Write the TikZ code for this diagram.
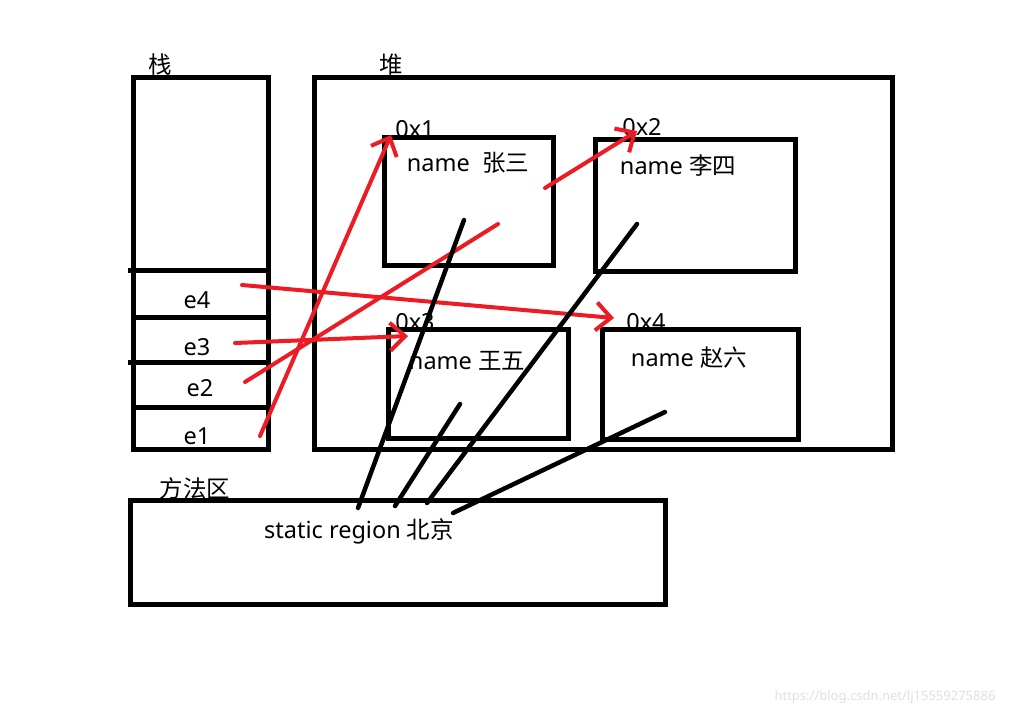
\documentclass[tikz,border=0pt]{standalone}
\usepackage{fontspec}
\setmainfont{Noto Sans}
\newfontfamily\cjk{Noto Sans CJK SC}
\usetikzlibrary{arrows.meta}
\definecolor{paintred}{RGB}{237,28,36}
\tikzset{
  box/.style={draw,line width=5pt,inner sep=0pt},
  sep/.style={line width=5pt},
  ref/.style={paintred,line width=4pt,line cap=round},
  refarr/.style={ref,-{Straight Barb[length=15pt,width=28pt]}},
  link/.style={line width=4.5pt,line cap=round},
  lbl/.style={font=\fontsize{23.5}{26}\selectfont,inner sep=0pt},
  wm/.style={font=\fontsize{13}{15}\selectfont,text=black!12,inner sep=0pt}
}
\begin{document}
\begin{tikzpicture}[x=1pt,y=-1pt]
  \useasboundingbox[fill=white] (0,0) rectangle (1033,716);
  % labels under the frames
  \node[lbl] (stacklbl) at (160,65) {\cjk 栈};
  \node[lbl] (heaplbl) at (391,65) {\cjk 堆};
  \node[lbl] (methodlbl) at (195,489) {\cjk 方法区};
  \node[lbl] (a1) at (415,129) {0x1}; \node[lbl] (a2) at (642,127) {0x2};
  \node[lbl] (a3) at (415,322) {0x3}; \node[lbl] (a4) at (646,322) {0x4};
  % frames
  \node[box,minimum width=135pt,minimum height=372pt] (stack) at (200.5,263) {};
  \node[box,minimum width=578pt,minimum height=372pt] (heap) at (603,263) {};
  \node[box,minimum width=535pt,minimum height=104pt] (method) at (397.5,552) {};
  \node[box,minimum width=169pt,minimum height=128pt] (obj1) at (468.5,201) {};
  \node[box,minimum width=200pt,minimum height=132pt] (obj2) at (695,205) {};
  \node[box,minimum width=180pt,minimum height=109pt] (obj3) at (478,383.5) {};
  \node[box,minimum width=196pt,minimum height=110pt] (obj4) at (700,384) {};
  \draw[sep] (128,270) -- (268,270); \draw[sep] (133,317) -- (268,317);
  \draw[sep] (128,362) -- (268,362); \draw[sep] (133,407) -- (268,407);
  % texts
  \node[lbl] (e4) at (197,300) {e4}; \node[lbl] (e3) at (197,347) {e3};
  \node[lbl] (e2) at (200,388) {e2}; \node[lbl] (e1) at (197,436) {e1};
  \node[lbl] (n1) at (468,163) {name\ \ {\cjk 张三}};
  \node[lbl] (n2) at (678,166) {name {\cjk 李四}};
  \node[lbl] (n3) at (467,361) {name {\cjk 王五}};
  \node[lbl] (n4) at (689,358) {name {\cjk 赵六}};
  \node[lbl] (city) at (359,531) {static region {\cjk 北京}};
  \node[wm] (mark) at (885,697) {https://blog.csdn.net/lj15559275886};
  % references
  \coordinate (r1s) at (260,436); \coordinate (r1e) at (391,135);
  \coordinate (r2s) at (245,382); \coordinate (r2m) at (498,224);
  \coordinate (r2n) at (545,188); \coordinate (r2e) at (637,131);
  \coordinate (r3s) at (235,343); \coordinate (r3e) at (408,336);
  \coordinate (r4s) at (242,285); \coordinate (r4e) at (614,318);
  \draw[refarr] (r1s) -- (r1e);
  \draw[ref] (r2s) -- (r2m); \draw[refarr] (r2n) -- (r2e);
  \draw[refarr] (r3s) -- (r3e);
  \draw[refarr] (r4s) -- (r4e);
  % static links
  \coordinate (s1) at (358,508); \coordinate (t1) at (464,220);
  \coordinate (s2) at (395,506); \coordinate (t2) at (460,404);
  \coordinate (s3) at (427,503); \coordinate (t3) at (637,224);
  \coordinate (s4) at (453,513); \coordinate (t4) at (665,412);
  \draw[link] (s1) -- (t1); \draw[link] (s2) -- (t2);
  \draw[link] (s3) -- (t3); \draw[link] (s4) -- (t4);
\end{tikzpicture}
\end{document}
